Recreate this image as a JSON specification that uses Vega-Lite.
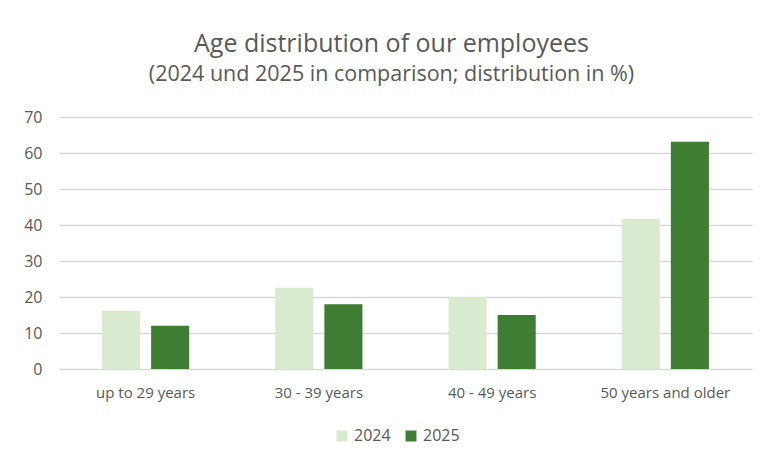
{
  "$schema": "https://vega.github.io/schema/vega-lite/v6.json",
  "width": 693,
  "height": 252,
  "autosize": {"type": "none"},
  "padding": {"left": 59, "top": 117, "right": 14, "bottom": 94},
  "background": "white",
  "title": {
    "text": "Age distribution of our employees",
    "subtitle": "(2024 und 2025 in comparison; distribution in %)",
    "anchor": "middle",
    "dx": -14,
    "offset": 24,
    "font": "Open Sans",
    "fontSize": 25,
    "fontWeight": "normal",
    "color": "#595959",
    "subtitleFont": "Open Sans",
    "subtitleFontSize": 21.5,
    "subtitleColor": "#595959",
    "subtitlePadding": 7
  },
  "data": {
    "values": [
      {"age": "up to 29 years", "year": "2024", "pct": 16.2},
      {"age": "up to 29 years", "year": "2025", "pct": 12.0},
      {"age": "30 - 39 years", "year": "2024", "pct": 22.6},
      {"age": "30 - 39 years", "year": "2025", "pct": 18.0},
      {"age": "40 - 49 years", "year": "2024", "pct": 19.9},
      {"age": "40 - 49 years", "year": "2025", "pct": 15.0},
      {"age": "50 years and older", "year": "2024", "pct": 41.7},
      {"age": "50 years and older", "year": "2025", "pct": 63.1}
    ]
  },
  "mark": {"type": "bar"},
  "encoding": {
    "x": {
      "field": "age",
      "type": "nominal",
      "sort": null,
      "scale": {"paddingInner": 0.497, "paddingOuter": 0.2485},
      "axis": {
        "title": null,
        "labelAngle": 0,
        "ticks": false,
        "domain": false,
        "labelPadding": 16,
        "labelFont": "Open Sans",
        "labelFontSize": 15,
        "labelColor": "#595959"
      }
    },
    "xOffset": {
      "field": "year",
      "type": "nominal",
      "scale": {"paddingInner": 0.224, "paddingOuter": 0}
    },
    "y": {
      "field": "pct",
      "type": "quantitative",
      "scale": {"domain": [0, 70]},
      "axis": {
        "title": null,
        "values": [0, 10, 20, 30, 40, 50, 60, 70],
        "ticks": false,
        "domain": false,
        "grid": true,
        "gridColor": "#d9d9d9",
        "gridWidth": 1.3,
        "labelPadding": 17,
        "labelFont": "Open Sans",
        "labelFontSize": 16,
        "labelColor": "#595959"
      }
    },
    "color": {
      "field": "year",
      "type": "nominal",
      "scale": {"domain": ["2024", "2025"], "range": ["#d9eacf", "#3e7d32"]},
      "legend": {
        "title": null,
        "orient": "none",
        "legendX": 275,
        "legendY": 311,
        "direction": "horizontal",
        "symbolType": "square",
        "symbolSize": 120,
        "symbolStrokeWidth": 0,
        "labelFont": "Open Sans",
        "labelFontSize": 16,
        "labelColor": "#595959",
        "columnPadding": 12,
        "labelOffset": 4
      }
    }
  },
  "config": {
    "view": {"stroke": null}
  }
}
